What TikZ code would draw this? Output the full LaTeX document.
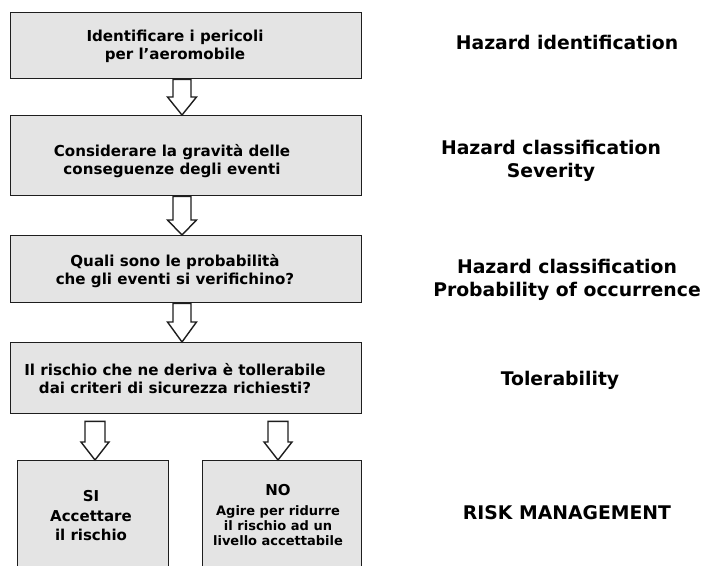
\documentclass[tikz,border=0pt]{standalone}
\usepackage{fontspec}
\setmainfont{DejaVu Sans}
\usetikzlibrary{calc}
\definecolor{boxgray}{RGB}{228,228,228}
\definecolor{edge}{RGB}{30,30,30}
\newcommand\boxfont{\fontsize{15.1}{18}\selectfont\bfseries}
\newcommand\labfont{\fontsize{18.8}{22.5}\selectfont\bfseries}
\newcommand\nofont{\fontsize{13}{15}\selectfont\bfseries}
\newcommand\bigno{\fontsize{15}{15}\selectfont\bfseries}
% block arrow: #1 start (top), #2 apex, #3 head length, #4 half shaft, #5 half head
\newcommand\barrow[5]{%
  \draw[arrowline] let \p1=(#1), \p2=(#2) in
    (\x2-#4,\y1) -- (\x2-#4,\y2+#3) -- (\x2-#5,\y2+#3) -- (\x2,\y2)
    -- (\x2+#5,\y2+#3) -- (\x2+#4,\y2+#3) -- (\x2+#4,\y1) -- cycle;}
\tikzset{
  stepbox/.style={draw=edge, line width=1.4pt, fill=boxgray, inner sep=0pt,
    anchor=north west},
  boxtext/.style={align=center, font=\boxfont, inner sep=0pt},
  labtext/.style={align=center, font=\labfont, inner sep=0pt},
  arrowline/.style={draw=edge, line width=1.4pt, fill=white, line join=miter},
}
\begin{document}
\begin{tikzpicture}[x=1pt,y=-1pt]
\clip (0,0) rectangle (701,565);
\fill[white] (0,0) rectangle (701,565);
% boxes
\node[stepbox, minimum width=351pt, minimum height=66pt] (b1) at (10,12) {};
\node[stepbox, minimum width=351pt, minimum height=80pt] (b2) at (10,115) {};
\node[stepbox, minimum width=351pt, minimum height=67pt] (b3) at (10,235) {};
\node[stepbox, minimum width=351pt, minimum height=71pt] (b4) at (10,342) {};
\node[stepbox, minimum width=151pt, minimum height=130pt] (bsi) at (17,460) {};
\node[stepbox, minimum width=159pt, minimum height=130pt] (bno) at (202,460) {};
% box texts
\node[boxtext] (t1) at (175,46) {Identificare i pericoli\\ per l’aeromobile};
\node[boxtext] (t2) at (172,161) {Considerare la gravità delle\\ conseguenze degli eventi};
\node[boxtext] (t3) at (175,271) {Quali sono le probabilità\\ che gli eventi si verifichino?};
\node[boxtext] (t4) at (175,379) {Il rischio che ne deriva è tollerabile\\ dai criteri di sicurezza richiesti?};
\node[align=center, inner sep=0pt, font=\fontsize{15}{19.5}\selectfont\bfseries] (tsi) at (91,516) {SI\\ Accettare\\ il rischio};
\node[align=center, inner sep=0pt, font=\nofont] (tno) at (278,515)
  {\bigno NO\\[5pt] Agire per ridurre\\ il rischio ad un\\ livello accettabile};
% arrows
\barrow{$(b1.south west)+(172,0)$}{$(b2.north west)+(172,0)$}{18pt}{9pt}{14.5pt}
\barrow{$(b2.south west)+(172,0)$}{$(b3.north west)+(172,0)$}{15pt}{9pt}{14.5pt}
\barrow{$(b3.south west)+(172,0)$}{$(b4.north west)+(172,0)$}{20pt}{9pt}{14.5pt}
\barrow{$(b4.south west)+(85,7)$}{$(bsi.north west)+(78,0)$}{18pt}{10pt}{14pt}
\barrow{$(b4.south west)+(268,7)$}{$(bno.north west)+(76,0)$}{18pt}{10pt}{14pt}
% right labels
\node[labtext] (l1) at (567,42) {Hazard identification};
\node[labtext] (l2) at (551,161) {Hazard classification\\ Severity};
\node[labtext] (l3) at (567,280) {Hazard classification\\ Probability of occurrence};
\node[labtext] (l4) at (560,380) {Tolerability};
\node[labtext] (l5) at (567,513) {RISK MANAGEMENT};
\end{tikzpicture}
\end{document}
